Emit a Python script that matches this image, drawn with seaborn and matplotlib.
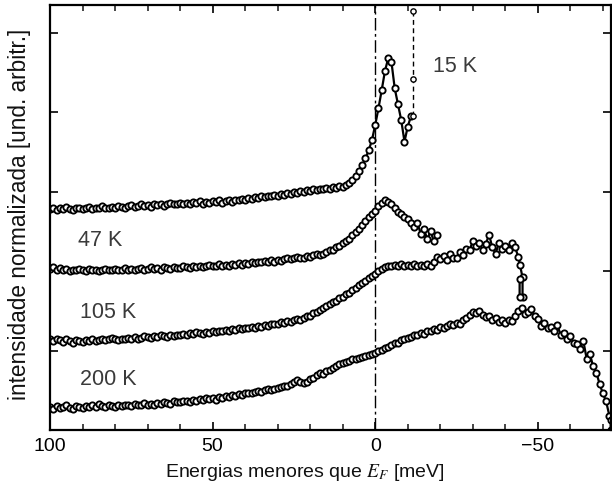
import numpy as np
import pandas as pd
import matplotlib
matplotlib.use("Agg")
import matplotlib.pyplot as plt
from matplotlib.ticker import MultipleLocator
import seaborn as sns

# ---------------- data ----------------
# energy grids (meV below E_F), 1 meV steps
grid_15K = np.arange(100, -12, -1)    # 100 .. -11
grid_47K = np.arange(100, -20, -1)    # 100 .. -19
grid_105K = np.arange(100, -45, -1)   # 100 .. -44
grid_200K = np.arange(100, -73, -1)   # 100 .. -72

int_15K = [
    2.78, 2.80, 2.77, 2.79, 2.78, 2.81, 2.78, 2.77, 2.80, 2.79,
    2.78, 2.80, 2.81, 2.78, 2.80, 2.79, 2.82, 2.80, 2.79, 2.81,
    2.80, 2.82, 2.81, 2.79, 2.82, 2.83, 2.81, 2.82, 2.84, 2.82,
    2.83, 2.81, 2.84, 2.83, 2.85, 2.82, 2.84, 2.86, 2.84, 2.85,
    2.86, 2.84, 2.86, 2.85, 2.87, 2.86, 2.88, 2.85, 2.87, 2.86,
    2.88, 2.87, 2.89, 2.86, 2.88, 2.89, 2.87, 2.90, 2.89, 2.91,
    2.90, 2.92, 2.91, 2.93, 2.92, 2.94, 2.93, 2.95, 2.94, 2.96,
    2.95, 2.97, 2.96, 2.98, 2.97, 2.99, 2.98, 3.01, 3.00, 3.02,
    3.01, 3.03, 3.02, 3.04, 3.03, 3.05, 3.04, 3.06, 3.05, 3.07,
    3.06, 3.08, 3.11, 3.15, 3.20, 3.26, 3.33, 3.42, 3.52, 3.65,
    3.84, 4.05, 4.28, 4.52, 4.68, 4.63, 4.30, 4.10, 3.90, 3.63, 3.82, 3.95,
]
tail_15K_x = [-11.7, -11.7, -11.7]
tail_15K_y = [3.95, 4.42, 5.27]

int_47K = [
    2.03, 2.05, 2.02, 2.04, 2.01, 2.03, 2.00, 2.02, 2.01, 2.03,
    2.02, 2.00, 2.03, 2.01, 2.02, 2.00, 2.02, 2.03, 2.01, 2.02,
    2.03, 2.01, 2.02, 2.04, 2.02, 2.03, 2.01, 2.03, 2.04, 2.02,
    2.03, 2.05, 2.03, 2.04, 2.02, 2.05, 2.04, 2.03, 2.05, 2.04,
    2.04, 2.06, 2.05, 2.04, 2.06, 2.05, 2.07, 2.05, 2.06, 2.08,
    2.06, 2.07, 2.09, 2.07, 2.08, 2.06, 2.09, 2.08, 2.10, 2.08,
    2.10, 2.09, 2.11, 2.10, 2.12, 2.11, 2.13, 2.11, 2.14, 2.12,
    2.14, 2.13, 2.15, 2.17, 2.15, 2.16, 2.18, 2.16, 2.17, 2.19,
    2.18, 2.20, 2.21, 2.20, 2.22, 2.24, 2.26, 2.27, 2.30, 2.32,
    2.35, 2.38, 2.41, 2.45, 2.49, 2.53, 2.58, 2.63, 2.68, 2.72,
    2.76, 2.82, 2.86, 2.89, 2.87, 2.84, 2.80, 2.75, 2.72, 2.68,
    2.66, 2.60, 2.55, 2.60, 2.47, 2.53, 2.40, 2.50, 2.38, 2.46,
]

int_105K = [
    1.14, 1.12, 1.15, 1.13, 1.11, 1.14, 1.12, 1.10, 1.13, 1.12,
    1.11, 1.13, 1.12, 1.14, 1.12, 1.13, 1.15, 1.13, 1.14, 1.16,
    1.14, 1.13, 1.15, 1.14, 1.16, 1.15, 1.17, 1.15, 1.16, 1.18,
    1.17, 1.16, 1.18, 1.17, 1.19, 1.18, 1.17, 1.19, 1.18, 1.20,
    1.19, 1.21, 1.20, 1.22, 1.21, 1.23, 1.22, 1.21, 1.23, 1.22,
    1.24, 1.23, 1.25, 1.24, 1.26, 1.25, 1.27, 1.26, 1.28, 1.27,
    1.29, 1.28, 1.30, 1.29, 1.31, 1.30, 1.32, 1.31, 1.33, 1.34,
    1.34, 1.36, 1.35, 1.37, 1.36, 1.38, 1.40, 1.39, 1.41, 1.43,
    1.44, 1.47, 1.48, 1.51, 1.53, 1.56, 1.59, 1.61, 1.63, 1.66,
    1.68, 1.71, 1.73, 1.76, 1.79, 1.82, 1.85, 1.88, 1.91, 1.94,
    1.97, 2.00, 2.03, 2.05, 2.06, 2.07, 2.08, 2.07, 2.09, 2.07,
    2.08, 2.06, 2.09, 2.07, 2.08, 2.06, 2.09, 2.07, 2.12, 2.18,
    2.15, 2.19, 2.14, 2.22, 2.17, 2.16, 2.24, 2.20, 2.28, 2.26,
    2.38, 2.31, 2.36, 2.27, 2.34, 2.46, 2.30, 2.22, 2.35, 2.28,
    2.32, 2.26, 2.35, 2.30, 2.18,
]
tail_105K_x = [-44.5, -45.3, -45.3, -44.4, -44.4]
tail_105K_y = [2.08, 1.92, 1.67, 1.67, 1.90]

int_200K = [
    0.29, 0.27, 0.30, 0.28, 0.29, 0.31, 0.28, 0.27, 0.30, 0.29,
    0.28, 0.30, 0.29, 0.31, 0.29, 0.33, 0.30, 0.29, 0.31, 0.30,
    0.29, 0.31, 0.30, 0.32, 0.31, 0.30, 0.33, 0.31, 0.32, 0.34,
    0.32, 0.33, 0.31, 0.34, 0.33, 0.35, 0.34, 0.33, 0.36, 0.35,
    0.35, 0.37, 0.36, 0.35, 0.38, 0.37, 0.39, 0.38, 0.40, 0.39,
    0.40, 0.38, 0.41, 0.40, 0.43, 0.42, 0.44, 0.43, 0.45, 0.44,
    0.46, 0.47, 0.46, 0.48, 0.49, 0.48, 0.50, 0.51, 0.50, 0.52,
    0.53, 0.54, 0.56, 0.55, 0.58, 0.61, 0.63, 0.60, 0.59, 0.61,
    0.64, 0.66, 0.69, 0.72, 0.71, 0.74, 0.76, 0.78, 0.80, 0.83,
    0.84, 0.86, 0.87, 0.89, 0.90, 0.91, 0.92, 0.93, 0.95, 0.96,
    0.97, 0.99, 1.01, 1.03, 1.05, 1.07, 1.09, 1.10, 1.13, 1.14,
    1.16, 1.17, 1.19, 1.20, 1.22, 1.21, 1.24, 1.25, 1.27, 1.26,
    1.30, 1.29, 1.31, 1.33, 1.32, 1.35, 1.34, 1.38, 1.41, 1.45,
    1.49, 1.47, 1.50, 1.45, 1.42, 1.44, 1.38, 1.41, 1.36, 1.39,
    1.35, 1.38, 1.37, 1.44, 1.50, 1.53, 1.46, 1.49, 1.52, 1.44,
    1.40, 1.31, 1.35, 1.28, 1.30, 1.24, 1.32, 1.20, 1.22, 1.14,
    1.18, 1.10, 1.08, 1.02, 1.12, 0.90, 0.96, 0.80, 0.72, 0.58,
    0.46, 0.36, 0.18,
]
tail_200K_x = [-72.4, -72.4]
tail_200K_y = [0.12, 0.0]

temp_labels = ["15 K", "47 K", "105 K", "200 K"]
label_x = [-17.8, 91.4, 90.8, 90.8]
label_y = [4.57, 2.39, 1.48, 0.63]

xticks = [100, 50, 0, -50]
xlabel = r"Energias menores que $E_F$ [meV]"
ylabel = "intensidade normalizada [und. arbitr.]"

# ---------------- plotting ----------------
sns.set_theme(style="ticks")
plt.rcParams["font.family"] = ["Liberation Sans", "DejaVu Sans"]
plt.rcParams["mathtext.fontset"] = "stix"
plt.rcParams["axes.unicode_minus"] = True

fig = plt.figure(figsize=(6.12, 4.91), dpi=100)
ax = fig.add_axes([50 / 612, 61 / 491, 561 / 612, 425 / 491])

mk = dict(color="black", lw=1.6, marker="o", markersize=4.5,
          markerfacecolor="white", markeredgecolor="black",
          markeredgewidth=1.35, sort=False, estimator=None, legend=False,
          clip_on=True)

curves = [
    (list(grid_15K), int_15K),
    (list(grid_47K), int_47K),
    (list(grid_105K) + tail_105K_x, int_105K + tail_105K_y),
    (list(grid_200K) + tail_200K_x, int_200K + tail_200K_y),
]
for xs, ys in curves:
    df = pd.DataFrame({"E": xs, "I": ys})
    sns.lineplot(data=df, x="E", y="I", ax=ax, **mk)

# dashed tail of the 15 K curve
df_t = pd.DataFrame({"E": tail_15K_x, "I": tail_15K_y})
mk_d = dict(mk)
mk_d["linestyle"] = (0, (3.5, 2.5))
mk_d["lw"] = 1.0
mk_d["markersize"] = 3.8
mk_d["markeredgewidth"] = 1.0
sns.lineplot(data=df_t, x="E", y="I", ax=ax, **mk_d)

# Fermi level
ax.axvline(0, color="black", lw=1.0, linestyle=(0, (9, 2.5, 2, 2.5)), zorder=1)

for t, tx, ty in zip(temp_labels, label_x, label_y):
    ax.text(tx, ty, t, fontsize=15.5, color="#3a3a3a", ha="left", va="center")

ax.set_xlim(100, -72.5)
ax.set_ylim(0, 5.35)
ax.set_xticks(xticks)
ax.set_xticklabels(["100", "50", "0", "\u221250"])
ax.xaxis.set_minor_locator(MultipleLocator(10))
ax.yaxis.set_major_locator(MultipleLocator(1))
ax.set_yticklabels([])
ax.tick_params(axis="both", which="major", direction="in", top=True, right=True,
               length=6, width=1.2, labelsize=14, colors="black", pad=6)
ax.tick_params(axis="x", which="minor", direction="in", top=True, bottom=True,
               length=4, width=1.2)
for s in ax.spines.values():
    s.set_linewidth(1.6)
    s.set_color("black")
    s.set_visible(True)

ax.set_xlabel(xlabel, fontsize=14, color="#111111")
ax.xaxis.set_label_coords(0.455, -0.075)
ax.set_ylabel(ylabel, fontsize=16.3, color="#111111")
ax.yaxis.set_label_coords(-0.034, 0.508)

fig.savefig("out.png", dpi=100)
